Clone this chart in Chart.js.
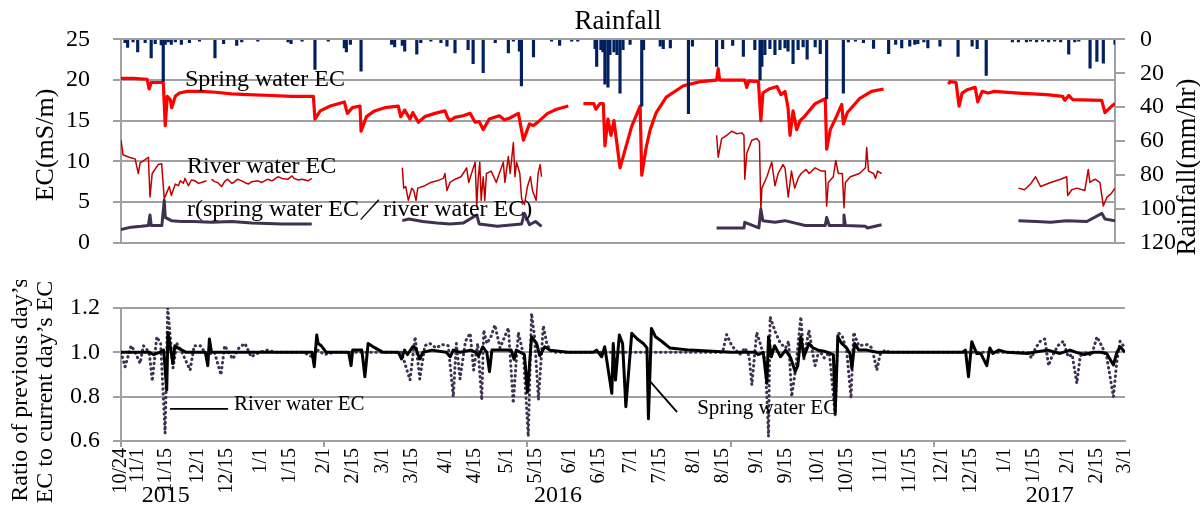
<!DOCTYPE html>
<html>
<head>
<meta charset="utf-8">
<script src="https://cdn.jsdelivr.net/npm/chart.js@4.4.1/dist/chart.umd.min.js"></script>
<style>
    html, body { margin: 0; padding: 0; background: #fff; }
    #wrap { position: relative; width: 1200px; height: 507px; overflow: hidden; }
    #topBox { position: absolute; left: 0; top: 0; width: 1200px; height: 280px; }
    #botBox { position: absolute; left: 0; top: 280px; width: 1200px; height: 227px; }
</style>
</head>
<body>
<div id="wrap">
    <div id="topBox"><canvas id="ecChart"></canvas></div>
    <div id="botBox"><canvas id="ratioChart"></canvas></div>
</div>
<script>
// x values are days counted from 10/24/2015

// Rainfall (mm/hr)
const rainDay = [2, 3.3, 6, 8.3, 12, 15, 17, 20, 21, 22,
    23.5, 25, 27, 30, 34, 39, 46.7, 51, 57.5, 60,
    68, 83, 84.5, 90, 96.4, 103, 111, 112, 114, 119.3,
    134.5, 136, 139.8, 141, 147, 149, 154, 159, 162, 166,
    172.5, 175, 180, 186, 192.5, 195, 198, 199, 205, 214,
    218, 224, 227, 235.6, 236.4, 238.5, 239.5, 240.5, 242, 243,
    245, 246.5, 248, 249.5, 253, 258.8, 259.7, 268, 269.5, 273,
    282, 284, 296, 299, 304, 309.3, 315, 317.6, 318.5, 320,
    322.5, 325, 327.5, 330, 331.5, 334, 336.5, 339, 341, 345,
    347.5, 350.7, 359, 361.5, 365, 369, 374, 381.5, 385, 388,
    392, 394.5, 396, 399, 401, 407, 416, 423, 425.5, 430,
    443, 446, 450, 452, 455, 458, 461, 464, 467, 471,
    474, 476, 481.6, 485, 488.2, 494];
const rainMm = [2, 4.8, 1.5, 7.4, 2, 10.9, 2.5, 3.2, 24.8, 3,
    1.5, 3, 1.5, 3, 2, 1, 10.9, 2.5, 3.5, 1.5,
    1, 1.5, 2.5, 1, 17.8, 1, 5, 7.4, 3, 18.7,
    3, 4.5, 3.5, 7, 8.7, 2, 1, 2, 4, 8,
    6, 14.4, 19.6, 2, 8, 1, 7, 27.4, 10.4, 1,
    3.5, 1, 1, 5.5, 16, 6, 7.4, 26.5, 28.2, 9,
    7.4, 9, 31.7, 6, 3, 39.5, 6, 4, 5.5, 5,
    43.8, 4, 16, 5.5, 3.5, 10, 6, 23.9, 16, 9,
    5.5, 9, 6, 5, 7, 14.4, 6, 4.5, 11.7, 4.5,
    8.5, 35.2, 31.7, 1.5, 1, 2, 5.4, 8.5, 3, 5,
    4, 3, 2.5, 1.5, 5, 4, 10, 4, 5.5, 21.3,
    1.5, 1.5, 1.5, 1, 1.5, 1, 1.5, 1, 1.5, 8.7,
    1.5, 1, 17, 13, 14, 3];

// Spring water EC (mS/m), null = no record
const springDay = [0, 6, 13, 14, 15, 21, 22, 23, 24.5, 25.2,
    27, 29, 33, 40, 47, 55, 63, 75, 85, 95.6,
    96.4, 99, 104, 111, 112.5, 115, 118.8, 119.3, 122, 126,
    131, 137.8, 139, 141, 143.6, 145, 147.8, 151, 156, 161,
    162.5, 163.5, 166, 170, 173.5, 176, 178, 180, 183, 188,
    190.5, 193, 197.5, 200, 203, 205, 208, 212, 216.5, 222.3,
    226, 229.8, 235, 236, 238, 239.7, 240.5, 242, 243.5, 245,
    248, 253.8, 258, 258.8, 261, 263, 266, 271, 279.5, 288,
    296, 296.8, 297.5, 310, 311, 312, 316.8, 318, 319, 322,
    326, 328, 330, 331.5, 332.5, 334, 335.8, 337.5, 340, 345,
    350, 350.7, 352.5, 355, 358.2, 359, 361, 367, 373, 379,
    395, 411.2, 412, 415, 416.5, 418, 420.5, 424.5, 425.8, 428,
    431, 434, 446, 460, 468, 469, 471, 473, 487.4, 489,
    492, 494];
const springEC = [20.2, 20.2, 20.1, 18.9, 19.7, 19.7, 14.4, 18.0, 17.6, 16.6,
    18.0, 18.4, 18.6, 18.6, 18.5, 18.3, 18.2, 18.1, 18.0, 18.0,
    15.2, 16.2, 16.8, 17.3, 15.9, 16.6, 16.8, 13.7, 15.5, 16.2,
    16.6, 16.8, 15.5, 16.3, 15.2, 16.0, 14.8, 15.5, 15.9, 16.2,
    15.3, 15.0, 15.4, 15.6, 15.9, 14.8, 14.9, 13.9, 15.2, 15.6,
    15.1, 15.3, 15.9, 12.6, 14.6, 14.4, 15.0, 15.9, 16.4, 16.8,
    null, 17.1, 17.1, 16.4, 17.1, 17.1, 11.9, 15.2, 13.2, 15.0,
    9.2, 14.3, 16.8, 8.3, 11.7, 13.9, 16.0, 17.9, 19.3, 19.8,
    20.0, 21.4, 20.0, 20.0, 19.1, 19.9, 19.8, 15.0, 18.4, 18.9,
    19.2, 18.2, 18.6, 16.6, 13.2, 16.2, 13.9, 15.0, 15.6, 17.1,
    17.7, 11.5, 13.9, 15.2, 17.0, 14.6, 16.0, 17.7, 18.6, 18.9,
    null, 19.5, 19.8, 19.7, 16.8, 18.4, 18.8, 19.1, 17.3, 18.6,
    18.4, 18.6, 18.4, 18.2, 18.0, 17.5, 18.1, 17.6, 17.5, 16.0,
    16.7, 17.1];

// River water EC (mS/m)
const riverDay = [0, 1, 4, 7, 8.6, 9.5, 12, 13.6, 14.4, 15.5,
    18.5, 20.2, 21.5, 23, 24, 25, 27, 28.5, 29.5, 31, 31.8, 33.5,
    35, 36.8, 38.5, 40, 42.5, 43.5, 45, 46.5, 48, 50, 51.5, 53, 55, 56, 58, 60,
    61.5, 63.3, 65, 68, 70, 73, 75, 78, 80, 83, 85, 86, 88, 90, 93, 94.8, 100,
    139.8, 140.5, 141.5, 142.8, 144.5, 145.5, 146.6, 147.5, 151, 154,
    157, 160.2, 161, 162, 163.5, 166, 169, 171.8, 172.8, 176,
    176.8, 177.5, 178.3, 179, 180, 180.8, 181.6, 184, 186.5, 188,
    190, 190.8, 192.5, 193.4, 195, 195.8, 196.6, 198.2, 199.1, 200.5,
    202, 203.5, 204.5, 206.3, 207.3, 208.3, 209, 250, 296, 296.8,
    298.5, 301, 303.5, 306, 308.5, 309.6, 310, 311, 313.5, 316,
    317.3, 318, 318.5, 321, 323.4, 325, 326.6, 329, 330, 331.6,
    333.2, 334.8, 336.5, 338, 340.5, 342, 345, 348, 350, 350.7,
    351.5, 354, 355.2, 356.5, 358.5, 359.3, 360, 362.5, 367, 370,
    370.6, 371.5, 374, 375, 376, 378, 410, 446, 449, 452,
    454.5, 457, 462, 467, 470, 470.5, 472.5, 475, 479, 480.7,
    481.5, 484, 486.5, 488.2, 490, 492, 494];
const riverEC = [12.6, 10.8, 10.5, 10.3, 8.5, 9.8, 10.2, 10.5, 5.6, 8.5,
    9.6, 9.7, 5.4, 6.3, 6.9, 5.8, 7.2, 7.0, 7.6, 7.3, 7.9, 7.0,
    7.7, 7.6, 7.3, 7.4, 7.6, null, 7.8, 7.5, 7.4, 6.9, 7.5, 7.8, 7.3, 7.4, 7.8, 7.6,
    7.4, 7.2, 7.5, 7.6, 7.4, 7.8, 7.6, 8.1, 7.9, 7.8, 8.2, 7.9, 7.7, 7.8, 7.6, 7.9, null,
    9.2, 6.7, 6.9, 5.2, 6.7, 6.4, 5.2, 6.7, 7.0, 7.4,
    7.6, 7.9, 8.5, 6.4, 7.4, 7.8, 8.1, 9.2, 7.4, 9.9,
    4.5, 7.8, 9.9, 5.2, 8.1, 5.2, 8.5, 8.8, 7.4, 8.5,
    9.9, 7.4, 10.6, 8.5, 12.3, 8.1, 9.9, 8.5, 5.4, 4.7,
    6.9, 8.1, 6.4, 5.2, 8.5, 9.6, 8.1, null, 13.2, 10.5,
    12.8, 13.2, 13.7, 13.4, 13.5, 13.2, 7.8, 11.0, 12.6, 12.8,
    12.4, 4.1, 6.7, 8.1, 9.9, 7.0, 8.5, 9.6, 9.2, 5.6,
    8.8, 6.7, 7.9, 8.5, 9.0, 8.5, 9.2, 8.8, 8.8, 4.5,
    7.4, 8.1, 10.1, 8.5, 8.5, 4.3, 7.4, 8.1, 8.5, 9.2,
    11.7, 8.8, 8.5, 7.9, 8.8, 8.5, null, 6.7, 6.5, 7.2,
    8.1, 6.9, 7.4, 7.8, 8.1, 5.8, 6.5, 6.7, 6.4, 9.0,
    7.4, 7.8, 7.4, 4.5, 5.6, 6.0, 6.7];

// r = spring water EC / river water EC
const rDay = [0, 5, 10, 13.6, 14.4, 15, 20.3, 21.5, 22, 25,
    30, 36, 45, 55, 65, 80, 94.8, 100, 139.8, 143,
    150, 157, 163.5, 170, 176.8, 178, 187, 195, 199.1, 200.5,
    203, 206, 209, 250, 296, 309.6, 310, 317, 318, 319,
    325, 330, 340, 350, 350.7, 352, 359, 359.3, 360, 370,
    371, 378, 410, 446, 455, 462, 470, 480, 487.5, 489,
    494];
const rVal = [1.6, 1.9, 2.0, 2.1, 3.4, 2.1, 2.1, 5.2, 3.1, 2.7,
    2.6, 2.6, 2.5, 2.6, 2.4, 2.3, 2.3, null, 2.7, 2.9,
    2.6, 2.4, 2.3, 2.4, 3.4, 2.3, 2.0, 2.2, 2.3, 3.6,
    2.2, 2.6, 2.0, null, 1.8, 1.8, 2.5, 1.8, 4.1, 2.7,
    2.5, 2.7, 2.1, 2.1, 3.1, 2.1, 2.1, 3.4, 2.1, 2.0,
    1.8, 2.2, null, 2.7, 2.6, 2.5, 2.7, 2.6, 3.6, 2.9,
    2.7];

// Ratio of previous day's EC to current day's EC - spring water
const springRatioDay = [0, 14, 16, 19, 21, 22.5, 23.1, 24, 25.5, 26.5,
    28, 32, 41.5, 42.7, 43.5, 44.5, 60, 80, 94, 95.1,
    96.3, 97, 98.5, 101, 112, 113.2, 114, 118.5, 120, 121.6,
    125, 129, 136.5, 138, 139.5, 141, 143.5, 145, 147, 148.5,
    153, 160, 162, 163.5, 167, 172, 174.5, 176, 178, 180,
    181.3, 182.5, 188, 192, 193.4, 194.5, 198.5, 200, 202, 204.5,
    206, 208.5, 211, 220, 232.4, 234, 236.5, 238, 241.5, 242.2,
    243.3, 245.2, 246.8, 248.4, 251.3, 254, 257, 258.8, 259.5, 261,
    263, 266, 270, 280, 300, 312, 313.5, 316, 317.8, 318.6,
    320, 321.6, 324.5, 327, 329.5, 331.7, 333, 334.5, 336, 338.5,
    340.5, 343, 346, 349, 350.5, 351.4, 352.7, 354.6, 357, 358.7,
    359.6, 361, 363, 367, 372, 414, 415.5, 417, 418.6, 421,
    423, 426, 427.5, 429, 432, 436, 446, 449, 456, 462,
    467, 470, 474, 478, 482, 485, 488.3, 490, 491.6, 494];
const springRatio = [1.0, 1.0, 0.99, 1.0, 1.01, 0.83, 1.09, 1.04, 0.95, 1.03,
    1.02, 1.0, 1.0, 0.94, 1.06, 1.0, 1.0, 1.0, 1.0, 0.935,
    1.078, 1.04, 1.03, 1.0, 1.0, 0.94, 1.01, 1.01, 0.89, 1.04,
    1.02, 1.0, 1.0, 0.97, 1.01, 0.99, 1.025, 1.02, 0.97, 1.0,
    1.01, 1.0, 0.98, 1.01, 1.0, 1.01, 1.0, 0.985, 1.025, 1.0,
    0.913, 1.01, 1.01, 1.01, 0.968, 1.01, 0.99, 0.82, 1.07, 1.04,
    0.985, 1.025, 1.01, 1.0, 1.0, 1.01, 0.98, 1.025, 0.815, 1.04,
    0.875, 1.078, 1.04, 0.755, 1.086, 1.06, 1.04, 1.02, 0.70, 1.108,
    1.07, 1.05, 1.02, 1.01, 1.0, 1.0, 0.99, 1.0, 0.86, 1.07,
    0.98, 1.03, 0.98, 1.01, 0.975, 0.913, 0.94, 1.07, 0.98, 1.04,
    1.02, 1.01, 1.005, 0.995, 0.99, 0.725, 1.07, 1.04, 1.02, 0.995,
    0.928, 1.04, 1.01, 1.01, 1.0, 1.0, 1.01, 0.89, 1.048, 0.995,
    0.995, 0.94, 1.02, 0.995, 1.01, 1.0, 0.995, 1.0, 1.01, 0.995,
    1.01, 1.0, 0.99, 1.0, 1.0, 0.995, 0.943, 1.0, 1.025, 1.0];

// Ratio of previous day's EC to current day's EC - river water
const riverRatioDay = [0, 2, 5, 7, 9.4, 11, 13, 14, 15.4, 17.6,
    19.5, 21.7, 23, 25.6, 27.5, 30, 34, 36, 39, 42,
    46, 49.2, 51, 55, 58, 61, 64, 68, 72, 76,
    83, 90, 94, 97, 100, 105, 120, 138, 142.2, 144.7,
    147, 149.5, 152, 155, 158, 161, 163.5, 165, 166.8, 169.5,
    171.8, 173.5, 175.5, 177.5, 178.5, 180, 182, 184, 186.5, 190.6,
    193, 195.5, 198, 200.4, 202, 203.5, 205.4, 207.8, 209.5, 211,
    213, 296, 298, 300.5, 304.5, 307, 309, 310.4, 312.8, 314.5,
    317, 318.6, 319.4, 322, 324.5, 327, 328.5, 330, 332, 334.5,
    336, 338.5, 340.8, 341.5, 343.5, 346, 348.5, 351.4, 352.8, 355,
    357, 359.2, 360.5, 363, 367, 369.5, 371.9, 373.5, 376, 378,
    446, 448, 450, 452.3, 454.5, 456.4, 458, 461, 463.7, 466,
    468, 470.3, 472, 475, 477.5, 480.2, 482.5, 485, 488.3, 490,
    491.6, 494];
const riverRatio = [1.0, 0.935, 1.03, 1.0, 0.95, 1.03, 1.01, 0.99, 0.87, 1.07,
    1.04, 0.635, 1.2, 0.93, 1.04, 1.0, 0.92, 1.03, 1.03, 0.99,
    1.0, 0.898, 1.03, 0.97, 1.02, 1.04, 0.98, 1.0, 1.01, 1.0,
    1.0, 1.0, 0.98, 1.01, 0.99, 1.0, 1.0, 1.0, 0.875, 1.07,
    0.88, 1.03, 1.04, 1.02, 1.035, 1.03, 0.8, 1.04, 0.88, 1.05,
    1.086, 0.92, 1.04, 0.785, 1.1, 1.04, 1.07, 1.123, 1.02, 1.11,
    0.77, 1.09, 0.99, 0.62, 1.176, 1.07, 0.785, 1.12, 1.04, 1.01,
    1.0, 1.0, 1.08, 1.03, 0.99, 1.02, 0.985, 0.853, 1.09, 1.04,
    0.96, 0.62, 1.16, 1.09, 1.04, 1.02, 1.05, 0.8, 0.93, 1.16,
    0.97, 1.1, 0.97, 0.94, 1.01, 0.975, 1.0, 0.717, 1.09, 1.07,
    1.01, 0.793, 1.09, 1.03, 1.035, 1.02, 0.92, 0.99, 1.01, 1.0,
    1.0, 0.975, 1.02, 1.05, 1.06, 0.94, 0.98, 1.03, 1.05, 0.98,
    0.99, 0.86, 0.985, 1.0, 0.985, 1.07, 1.03, 0.98, 0.8, 0.96,
    1.05, 1.02];

// date axis
const tickDays = [0, 8, 22, 38, 52, 69, 83, 100, 114, 129, 143, 160, 174, 190, 204, 221, 235,
    251, 265, 282, 296, 313, 327, 343, 357, 374, 388, 404, 418, 435, 449, 466, 480, 494];
const tickLabels = ['10/24', '11/1', '11/15', '12/1', '12/15', '1/1', '1/15', '2/1', '2/15',
    '3/1', '3/15', '4/1', '4/15', '5/1', '5/15', '6/1', '6/15', '7/1', '7/15', '8/1', '8/15',
    '9/1', '9/15', '10/1', '10/15', '11/1', '11/15', '12/1', '12/15', '1/1', '1/15', '2/1', '2/15', '3/1'];
const markDays = [0, 100, 200, 300, 400];   // small tick marks on the date axis
const yearLabels = ['2015', '2016', '2017'];
const yearDays = [22, 215, 457];

const LAST_DAY = 494;
const GRID = '#a0a0a0';
const SERIF = "'Liberation Serif', 'Times New Roman', serif";

function points(xs, ys) {
    return xs.map(function(x, i) { return { x: x, y: ys[i] }; });
}

// draws free text / leader lines, either at data positions or pixel positions
const overlayText = {
    id: 'overlayText',
    afterDraw(chart, args, opts) {
        const ctx = chart.ctx;
        const xs = chart.scales.x;
        (opts.items || []).forEach(function(it) {
            ctx.save();
            ctx.fillStyle = '#000';
            ctx.strokeStyle = '#000';
            if (it.line) {
                const ys = chart.scales[it.axis];
                ctx.lineWidth = it.width || 1.5;
                ctx.beginPath();
                ctx.moveTo(xs.getPixelForValue(it.line[0][0]), ys.getPixelForValue(it.line[0][1]));
                ctx.lineTo(xs.getPixelForValue(it.line[1][0]), ys.getPixelForValue(it.line[1][1]));
                ctx.stroke();
            } else {
                const x = it.day !== undefined ? xs.getPixelForValue(it.day) : it.px;
                const y = it.value !== undefined ? chart.scales[it.axis].getPixelForValue(it.value) : it.py;
                ctx.font = it.font;
                ctx.textAlign = it.align || 'left';
                ctx.textBaseline = it.baseline || 'alphabetic';
                ctx.translate(x, y);
                if (it.rotate) ctx.rotate(it.rotate);
                ctx.fillText(it.text, 0, 0);
            }
            ctx.restore();
        });
    }
};

// ---------- upper chart: EC and rainfall ----------
new Chart(document.getElementById('ecChart'), {
    type: 'line',
    data: {
        datasets: [{
            type: 'bar',
            label: 'Rainfall',
            data: points(rainDay, rainMm),
            yAxisID: 'rain',
            backgroundColor: '#002060',
            barThickness: 2.5,
            grouped: false
        }, {
            label: 'r(spring water EC／river water EC)',
            data: points(rDay, rVal),
            yAxisID: 'y',
            borderColor: '#403152',
            borderWidth: 3
        }, {
            label: 'River water EC',
            data: points(riverDay, riverEC),
            yAxisID: 'y',
            borderColor: '#c00000',
            borderWidth: 1.5
        }, {
            label: 'Spring water EC',
            data: points(springDay, springEC),
            yAxisID: 'y',
            borderColor: '#ff0000',
            borderWidth: 3.2
        }]
    },
    options: {
        responsive: true,
        maintainAspectRatio: false,
        animation: false,
        spanGaps: false,
        layout: { padding: 0 },
        elements: {
            point: { radius: 0 },
            line: { tension: 0, borderJoinStyle: 'round', fill: false }
        },
        scales: {
            x: {
                type: 'linear',
                min: 0,
                max: LAST_DAY,
                offset: false,
                ticks: { display: false },
                grid: { display: false },
                border: { display: true, color: GRID, width: 2 },
                afterFit: function(scale) { scale.height = 10; }
            },
            y: {
                position: 'left',
                min: 0,
                max: 25,
                ticks: { stepSize: 5, color: '#000', padding: 23, font: { family: SERIF, size: 24 } },
                grid: { color: GRID, lineWidth: 2, tickLength: 8 },
                border: { display: true, color: GRID, width: 2 },
                afterFit: function(scale) { scale.width = 121; }
            },
            rain: {
                position: 'right',
                reverse: true,
                min: 0,
                max: 120,
                ticks: { stepSize: 20, color: '#000', padding: 15, font: { family: SERIF, size: 24 } },
                grid: { drawOnChartArea: false, color: GRID, lineWidth: 2, tickLength: 10 },
                border: { display: true, color: GRID, width: 2 },
                afterFit: function(scale) { scale.width = 85; }
            }
        },
        plugins: {
            legend: { display: false },
            tooltip: { enabled: false },
            title: {
                display: true,
                text: 'Rainfall',
                fullSize: false,
                color: '#000',
                font: { family: SERIF, size: 27, weight: 'normal' },
                padding: { top: 6, bottom: 1 }
            },
            overlayText: {
                items: [
                    { text: 'Spring water EC', day: 31.8, value: 19.3, axis: 'y', font: '24px ' + SERIF },
                    { text: 'River water EC', day: 32.8, value: 8.55, axis: 'y', font: '24px ' + SERIF },
                    { text: 'r(spring water EC／river water EC)', day: 32.8, value: 3.25, axis: 'y', font: '24px ' + SERIF },
                    { text: 'EC(mS/m)', px: 46, py: 145, rotate: -Math.PI / 2, align: 'center', baseline: 'middle', font: '26px ' + SERIF },
                    { text: 'Rainfall(mm/hr)', px: 1188, py: 167, rotate: -Math.PI / 2, align: 'center', baseline: 'middle', font: '27px ' + SERIF }
                ]
            }
        }
    },
    plugins: [overlayText]
});

// ---------- lower chart: day-to-day EC ratio ----------
const labelFor = new Map(tickDays.map(function(d, i) { return [d, tickLabels[i]]; }));
const axisTicks = Array.from(new Set(tickDays.concat(markDays))).sort(function(a, b) { return a - b; });

new Chart(document.getElementById('ratioChart'), {
    type: 'line',
    data: {
        datasets: [{
            label: 'Spring water EC',
            data: points(springRatioDay, springRatio),
            borderColor: '#000000',
            borderWidth: 3
        }, {
            label: 'River water EC',
            data: points(riverRatioDay, riverRatio),
            borderColor: '#403152',
            borderWidth: 3,
            borderDash: [0.5, 4.5],
            borderCapStyle: 'round'
        }]
    },
    options: {
        responsive: true,
        maintainAspectRatio: false,
        animation: false,
        layout: { padding: { top: 28, right: 75, left: 0, bottom: 0 } },
        elements: {
            point: { radius: 0 },
            line: { tension: 0, borderJoinStyle: 'round', fill: false }
        },
        scales: {
            x: {
                type: 'linear',
                min: 0,
                max: LAST_DAY,
                offset: false,
                afterBuildTicks: function(scale) {
                    scale.ticks = axisTicks.map(function(v) { return { value: v }; });
                },
                ticks: {
                    autoSkip: false,
                    minRotation: 90,
                    maxRotation: 90,
                    padding: 1,
                    color: '#000',
                    font: { family: SERIF, size: 20 },
                    callback: function(v) { return labelFor.has(v) ? labelFor.get(v) : ''; }
                },
                grid: {
                    drawOnChartArea: false,
                    tickLength: 6,
                    lineWidth: 2,
                    color: function(c) {
                        return (c.tick && markDays.includes(c.tick.value)) ? GRID : 'rgba(0,0,0,0)';
                    }
                },
                border: { display: true, color: GRID, width: 2 },
                afterFit: function(scale) { scale.height = 66; }
            },
            y: {
                min: 0.6,
                max: 1.2,
                ticks: {
                    stepSize: 0.2,
                    color: '#000',
                    padding: 13,
                    font: { family: SERIF, size: 24 },
                    callback: function(v) { return Number(v).toFixed(1); }
                },
                grid: { color: GRID, lineWidth: 2, tickLength: 8 },
                border: { display: true, color: GRID, width: 2 },
                afterFit: function(scale) { scale.width = 121; }
            }
        },
        plugins: {
            legend: { display: false },
            tooltip: { enabled: false },
            overlayText: {
                items: [
                    { line: [[24.1, 0.745], [52.7, 0.745]], axis: 'y', width: 1.8 },
                    { text: 'River water EC', day: 55.6, value: 0.74, axis: 'y', font: '21px ' + SERIF },
                    { line: [[259.8, 0.875], [273.6, 0.73]], axis: 'y', width: 1.8 },
                    { text: 'Spring water EC', day: 283.5, value: 0.72, axis: 'y', font: '21px ' + SERIF },
                    { text: yearLabels[0], day: yearDays[0], py: 216, align: 'center', baseline: 'middle', font: '24px ' + SERIF },
                    { text: yearLabels[1], day: yearDays[1], py: 216, align: 'center', baseline: 'middle', font: '24px ' + SERIF },
                    { text: yearLabels[2], day: yearDays[2], py: 216, align: 'center', baseline: 'middle', font: '24px ' + SERIF },
                    { text: 'Ratio of previous day’s', px: 21, py: 110, rotate: -Math.PI / 2, align: 'center', baseline: 'middle', font: '24px ' + SERIF },
                    { text: 'EC to current day’s EC', px: 46, py: 112, rotate: -Math.PI / 2, align: 'center', baseline: 'middle', font: '24px ' + SERIF }
                ]
            }
        }
    },
    plugins: [overlayText]
});
</script>
</body>
</html>
